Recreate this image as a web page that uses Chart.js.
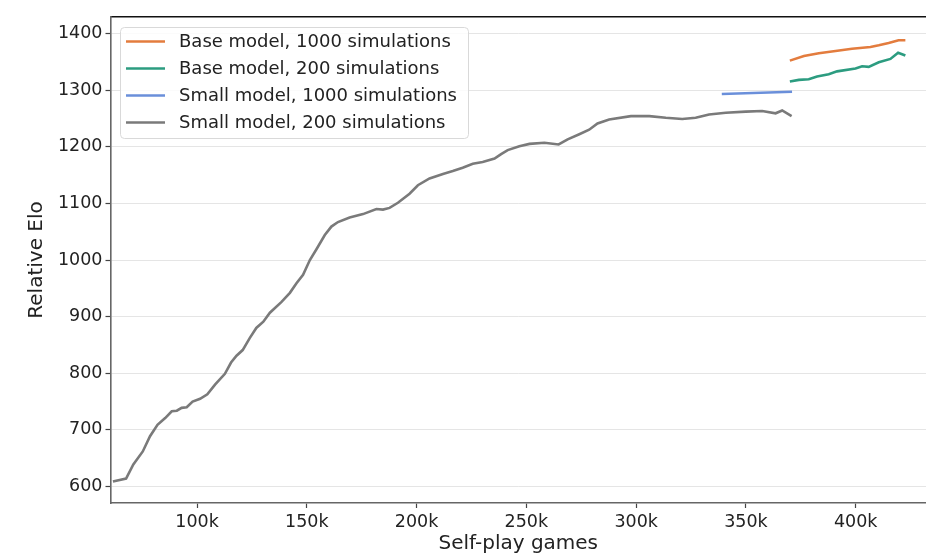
<!DOCTYPE html>
<html>
<head>
<meta charset="utf-8">
<script src="https://cdn.jsdelivr.net/npm/chart.js@4"></script>
<style>
  body { margin: 0; background: #fff; }
  #wrap { width: 926px; height: 556px; }
</style>
</head>
<body>
<div id="wrap"><canvas id="eloChart" width="926" height="556"></canvas></div>
<script>
// Data (games in thousands, Elo)
const smallGames200 = [61.7, 67.7, 71, 75.3, 78.6, 82, 85.5, 88.5, 90.8, 93, 95.3, 98, 101.4, 104.7, 108.2,
  112.7, 115.5, 118, 120.8, 124, 127, 130.2, 133.2, 138.5, 142.3, 145.3, 148.3, 151.4, 154.4, 158.2,
  161.2, 164.2, 169.5, 175.6, 181.7, 184.7, 187.7, 191.5, 196.8, 200.6, 205.9, 212, 216.5, 221, 225.6,
  230.1, 235.5, 238.5, 241.5, 246.8, 251.4, 258.2, 264.7, 268.8, 274.1, 278.6, 282.4, 287.7, 297.6, 306,
  313.5, 321, 327.1, 333.2, 340.8, 349.9, 357.4, 363.5, 366.5, 370.8];
const smallElo200 = [609, 614, 639, 662, 689, 709, 721, 733, 734, 739, 740, 750, 755, 763, 780,
  799, 819, 831, 841, 862, 880, 891, 907, 926, 942, 959, 974, 1000, 1019, 1044,
  1059, 1067, 1075, 1081, 1090, 1089, 1092, 1101, 1117, 1132, 1144, 1152, 1157, 1163, 1170,
  1173, 1179, 1187, 1194, 1201, 1205, 1207, 1204, 1213, 1222, 1230, 1241, 1248, 1254, 1254,
  1251, 1249, 1251, 1257, 1260, 1262, 1263, 1259, 1264, 1254];

const smallGames1000 = [339, 371];
const smallElo1000 = [1293, 1297];

const baseGames1000 = [370, 376.4, 383.2, 390.8, 398.3, 406.7, 410.5, 415, 419.5, 422.6];
const baseElo1000 = [1352, 1360, 1365, 1369, 1373, 1376, 1379, 1383, 1388, 1388];

const baseGames200 = [370, 374.1, 378.6, 382.4, 387.7, 391.5, 399.9, 402.9, 405.9, 410.5, 415.8, 419.3, 422.6];
const baseElo200 = [1315, 1318, 1319, 1324, 1328, 1333, 1338, 1342, 1341, 1349, 1355, 1366, 1361];

const xTicks = [100, 150, 200, 250, 300, 350, 400];
const yTicks = [600, 700, 800, 900, 1000, 1100, 1200, 1300, 1400];

const toPoints = (games, elo) => games.map((g, i) => ({ x: g * 1000, y: elo[i] }));

const series = (label, games, elo, color) => ({
    label: label,
    data: toPoints(games, elo),
    borderColor: color,
    backgroundColor: color,
    borderWidth: 2.6,
    pointRadius: 0,
    tension: 0,
    fill: false
});

const FONT = 'DejaVu Sans';

// Legend box drawn inside the plot, top-left
const boxLegend = {
    id: 'boxLegend',
    afterDraw(chart) {
        const ctx = chart.ctx;
        const x0 = 120, y0 = 27, w = 348, h = 111;
        ctx.save();
        ctx.beginPath();
        ctx.roundRect(x0 + 0.5, y0 + 0.5, w, h, 4);
        ctx.fillStyle = 'rgba(255,255,255,0.85)';
        ctx.fill();
        ctx.strokeStyle = '#d9d9d9';
        ctx.lineWidth = 1;
        ctx.stroke();
        ctx.font = '18px "' + FONT + '"';
        ctx.textBaseline = 'middle';
        chart.data.datasets.forEach((ds, i) => {
            const y = 41.5 + i * 27;
            ctx.beginPath();
            ctx.moveTo(126, y);
            ctx.lineTo(165, y);
            ctx.strokeStyle = ds.borderColor;
            ctx.lineWidth = 2.6;
            ctx.stroke();
            ctx.fillStyle = '#222';
            ctx.fillText(ds.label, 179, y + 1);
        });
        ctx.restore();
    }
};

const ctx = document.getElementById('eloChart').getContext('2d');

new Chart(ctx, {
    type: 'line',
    data: {
        datasets: [
            series('Base model, 1000 simulations', baseGames1000, baseElo1000, '#e37c3e'),
            series('Base model, 200 simulations', baseGames200, baseElo200, '#2c9c80'),
            series('Small model, 1000 simulations', smallGames1000, smallElo1000, '#6a8fda'),
            series('Small model, 200 simulations', smallGames200, smallElo200, '#7a7a7a')
        ]
    },
    options: {
        responsive: false,
        animation: false,
        layout: { padding: { top: 17, left: 0, right: 0, bottom: 0 } },
        plugins: {
            legend: { display: false },
            tooltip: { enabled: false }
        },
        scales: {
            x: {
                type: 'linear',
                position: 'bottom',
                min: 60600,
                max: 432000,
                afterFit: s => { s.height = 53; },
                afterBuildTicks: s => { s.ticks = xTicks.map(v => ({ value: v * 1000 })); },
                ticks: {
                    autoSkip: false,
                    maxRotation: 0,
                    padding: 4,
                    color: '#222',
                    font: { family: FONT, size: 17.5 },
                    callback: v => (v / 1000) + 'k'
                },
                grid: { drawOnChartArea: false, drawTicks: true, tickLength: 5, tickColor: '#444', tickWidth: 1.2 },
                border: { display: true, color: '#666', width: 1.6 },
                title: {
                    display: true,
                    text: 'Self-play games',
                    color: '#222',
                    font: { family: FONT, size: 20 },
                    padding: { top: 1, bottom: 0 }
                }
            },
            xTop: {
                type: 'linear',
                position: 'top',
                min: 60600,
                max: 432000,
                afterFit: s => { s.height = 0; },
                afterBuildTicks: s => { s.ticks = []; },
                ticks: { display: false },
                grid: { display: false },
                border: { display: true, color: '#111', width: 1.4 }
            },
            y: {
                type: 'linear',
                min: 571,
                max: 1429,
                afterFit: s => { s.width = 110.5; },
                afterBuildTicks: s => { s.ticks = yTicks.map(v => ({ value: v })); },
                ticks: {
                    padding: 3,
                    color: '#222',
                    font: { family: FONT, size: 17.5 },
                    callback: v => String(v)
                },
                grid: { color: '#e5e5e5', lineWidth: 1, drawTicks: true, tickLength: 5, tickColor: '#444', tickWidth: 1.2 },
                border: { display: true, color: '#666', width: 1.6 },
                title: {
                    display: true,
                    text: 'Relative Elo',
                    color: '#222',
                    font: { family: FONT, size: 20 },
                    padding: { top: 25, bottom: 0 }
                }
            }
        }
    },
    plugins: [boxLegend]
});
</script>
</body>
</html>
